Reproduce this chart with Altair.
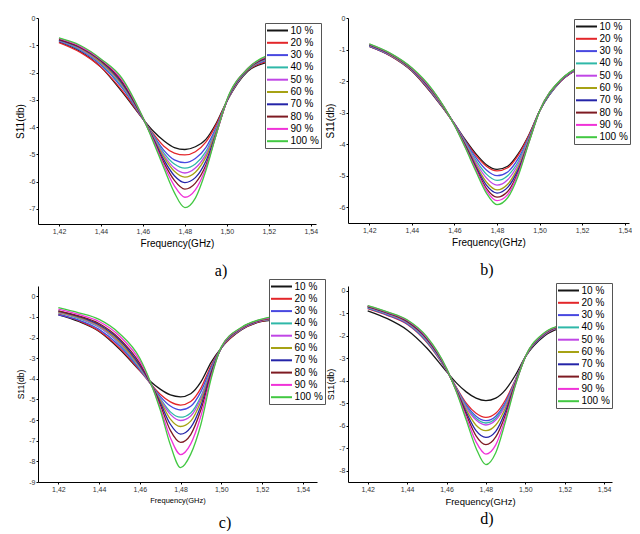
import altair as alt
import pandas as pd

# ---------------- data ----------------
freq = [1.42, 1.43, 1.44, 1.45, 1.46, 1.465, 1.47, 1.475, 1.48, 1.485,
        1.49, 1.495, 1.50, 1.51, 1.52, 1.525]
series = ["10 %", "20 %", "30 %", "40 %", "50 %", "60 %", "70 %", "80 %", "90 %", "100 %"]
colors = ["#161616", "#e3262a", "#4848e0", "#2fb8a8", "#c046e6", "#a6a214",
          "#2424a8", "#7e1a22", "#f032d8", "#42c842"]
x_ticks = [1.42, 1.44, 1.46, 1.48, 1.50, 1.52, 1.54]

a_vals = [
    [-0.88, -1.22, -1.80, -2.70, -3.70, -4.15, -4.50, -4.75, -4.82, -4.72, -4.45, -3.85, -3.05, -1.95, -1.60, -1.48],
    [-0.90, -1.25, -1.80, -2.65, -3.70, -4.25, -4.70, -4.95, -5.02, -4.90, -4.55, -3.90, -3.05, -1.92, -1.57, -1.45],
    [-0.85, -1.18, -1.72, -2.55, -3.70, -4.30, -4.85, -5.20, -5.30, -5.15, -4.75, -4.00, -3.05, -1.90, -1.53, -1.42],
    [-0.83, -1.15, -1.68, -2.50, -3.68, -4.33, -4.95, -5.35, -5.50, -5.35, -4.90, -4.05, -3.05, -1.90, -1.50, -1.40],
    [-0.82, -1.12, -1.65, -2.45, -3.68, -4.37, -5.03, -5.50, -5.68, -5.50, -5.00, -4.10, -3.05, -1.88, -1.48, -1.38],
    [-0.80, -1.10, -1.62, -2.42, -3.67, -4.40, -5.10, -5.62, -5.83, -5.65, -5.10, -4.15, -3.05, -1.88, -1.46, -1.36],
    [-0.80, -1.08, -1.58, -2.38, -3.67, -4.43, -5.20, -5.78, -6.03, -5.85, -5.25, -4.20, -3.05, -1.87, -1.44, -1.34],
    [-0.78, -1.06, -1.55, -2.32, -3.66, -4.47, -5.30, -5.95, -6.27, -6.05, -5.40, -4.25, -3.03, -1.86, -1.41, -1.31],
    [-0.75, -1.03, -1.52, -2.26, -3.65, -4.50, -5.40, -6.15, -6.57, -6.30, -5.50, -4.25, -3.02, -1.85, -1.38, -1.28],
    [-0.73, -1.00, -1.50, -2.20, -3.65, -4.55, -5.50, -6.40, -6.95, -6.60, -5.60, -4.25, -3.00, -1.85, -1.35, -1.25],
]
b_vals = [
    [-0.90, -1.20, -1.68, -2.45, -3.35, -3.85, -4.30, -4.65, -4.80, -4.70, -4.30, -3.70, -2.95, -2.00, -1.55, -1.42],
    [-0.90, -1.20, -1.67, -2.44, -3.36, -3.88, -4.35, -4.70, -4.85, -4.75, -4.35, -3.72, -2.95, -2.00, -1.55, -1.42],
    [-0.89, -1.19, -1.66, -2.42, -3.36, -3.90, -4.42, -4.82, -5.00, -4.88, -4.45, -3.77, -2.95, -1.99, -1.54, -1.41],
    [-0.88, -1.18, -1.65, -2.40, -3.37, -3.93, -4.50, -4.95, -5.15, -5.00, -4.55, -3.80, -2.95, -1.98, -1.53, -1.40],
    [-0.87, -1.17, -1.64, -2.38, -3.37, -3.96, -4.57, -5.07, -5.30, -5.13, -4.63, -3.84, -2.95, -1.98, -1.53, -1.40],
    [-0.86, -1.16, -1.63, -2.37, -3.38, -3.99, -4.64, -5.20, -5.45, -5.27, -4.72, -3.87, -2.95, -1.97, -1.52, -1.39],
    [-0.85, -1.15, -1.62, -2.35, -3.38, -4.02, -4.70, -5.30, -5.55, -5.37, -4.80, -3.90, -2.95, -1.97, -1.52, -1.39],
    [-0.84, -1.14, -1.60, -2.33, -3.39, -4.05, -4.75, -5.40, -5.68, -5.50, -4.88, -3.92, -2.95, -1.96, -1.51, -1.38],
    [-0.83, -1.13, -1.59, -2.32, -3.39, -4.08, -4.80, -5.47, -5.79, -5.60, -4.93, -3.94, -2.95, -1.96, -1.51, -1.38],
    [-0.82, -1.12, -1.58, -2.30, -3.40, -4.10, -4.85, -5.55, -5.92, -5.70, -5.00, -3.95, -2.95, -1.95, -1.50, -1.37],
]
c_vals = [
    [-0.90, -1.22, -1.70, -2.55, -3.60, -4.10, -4.50, -4.78, -4.87, -4.72, -4.15, -3.20, -2.50, -1.62, -1.22, -1.15],
    [-0.85, -1.18, -1.68, -2.50, -3.60, -4.20, -4.75, -5.12, -5.27, -5.10, -4.45, -3.35, -2.50, -1.60, -1.20, -1.13],
    [-0.90, -1.15, -1.60, -2.40, -3.55, -4.20, -4.85, -5.32, -5.51, -5.33, -4.62, -3.45, -2.50, -1.58, -1.18, -1.12],
    [-0.80, -1.08, -1.50, -2.30, -3.50, -4.20, -4.95, -5.60, -5.86, -5.65, -4.85, -3.55, -2.50, -1.57, -1.17, -1.10],
    [-0.78, -1.05, -1.47, -2.25, -3.45, -4.20, -5.00, -5.72, -6.02, -5.80, -4.95, -3.60, -2.50, -1.56, -1.16, -1.09],
    [-0.75, -1.02, -1.42, -2.20, -3.40, -4.18, -5.05, -5.95, -6.31, -6.05, -5.10, -3.65, -2.50, -1.55, -1.15, -1.08],
    [-0.72, -0.98, -1.38, -2.12, -3.35, -4.16, -5.15, -6.20, -6.68, -6.35, -5.30, -3.70, -2.50, -1.54, -1.14, -1.06],
    [-0.70, -0.95, -1.32, -2.05, -3.25, -4.14, -5.25, -6.50, -7.08, -6.70, -5.50, -3.80, -2.48, -1.53, -1.13, -1.05],
    [-0.62, -0.88, -1.22, -1.92, -3.12, -4.12, -5.40, -6.85, -7.67, -7.15, -5.80, -3.90, -2.47, -1.52, -1.12, -1.03],
    [-0.55, -0.80, -1.12, -1.80, -3.00, -4.10, -5.50, -7.20, -8.30, -7.65, -6.20, -4.00, -2.45, -1.50, -1.10, -1.00],
]
d_vals = [
    [-0.90, -1.25, -1.75, -2.55, -3.60, -4.10, -4.50, -4.78, -4.89, -4.78, -4.40, -3.75, -2.95, -2.00, -1.60, -1.50],
    [-0.80, -1.10, -1.50, -2.30, -3.55, -4.30, -5.00, -5.45, -5.63, -5.45, -4.85, -3.95, -2.95, -1.95, -1.57, -1.47],
    [-0.78, -1.08, -1.47, -2.27, -3.54, -4.33, -5.08, -5.58, -5.78, -5.58, -4.95, -3.98, -2.95, -1.94, -1.56, -1.46],
    [-0.76, -1.05, -1.44, -2.24, -3.53, -4.35, -5.14, -5.67, -5.88, -5.67, -5.02, -4.00, -2.95, -1.93, -1.55, -1.45],
    [-0.74, -1.03, -1.42, -2.20, -3.52, -4.37, -5.20, -5.75, -5.97, -5.75, -5.08, -4.02, -2.95, -1.92, -1.55, -1.45],
    [-0.73, -1.01, -1.40, -2.17, -3.50, -4.40, -5.30, -5.98, -6.22, -5.97, -5.20, -4.07, -2.95, -1.91, -1.54, -1.44],
    [-0.71, -0.99, -1.37, -2.14, -3.49, -4.42, -5.40, -6.22, -6.52, -6.25, -5.35, -4.10, -2.95, -1.90, -1.53, -1.43],
    [-0.70, -0.98, -1.35, -2.11, -3.48, -4.45, -5.50, -6.45, -6.84, -6.50, -5.50, -4.13, -2.95, -1.88, -1.52, -1.42],
    [-0.68, -0.96, -1.32, -2.08, -3.46, -4.47, -5.62, -6.72, -7.26, -6.85, -5.65, -4.17, -2.95, -1.87, -1.51, -1.41],
    [-0.67, -0.95, -1.30, -2.05, -3.45, -4.50, -5.75, -7.00, -7.73, -7.20, -5.80, -4.20, -2.95, -1.85, -1.50, -1.40],
]

FONT = "Liberation Sans"


def frame(vals):
    rows = []
    for k, name in enumerate(series):
        for f, v in zip(freq, vals[k]):
            rows.append({"f": f, "s": v, "series": name, "order": k})
    return pd.DataFrame(rows)


def panel(vals, label, ydom, ymin_tick, w, h, lx, ly, xtitle_size, ytitle_size,
          ytitle_pad, lab_dx, lab_off):
    df = frame(vals)
    yticks = list(range(0, ymin_tick - 1, -1))
    return alt.Chart(df).mark_line(strokeWidth=1.3, interpolate="monotone").encode(
        x=alt.X("f:Q", scale=alt.Scale(domain=[1.41, ydom[2]], nice=False, zero=False),
                axis=alt.Axis(values=x_ticks, title="Frequency(GHz)",
                              labelExpr="replace(format(datum.value, '.2f'), '.', ',')",
                              titleFontSize=xtitle_size, titlePadding=4)),
        y=alt.Y("s:Q", scale=alt.Scale(domain=[ydom[0], ydom[1]], nice=False, zero=False),
                axis=alt.Axis(values=yticks, title="S11(db)", labelExpr="'' + datum.value",
                              titleFontSize=ytitle_size, titlePadding=ytitle_pad)),
        color=alt.Color("series:N", scale=alt.Scale(domain=series, range=colors),
                        legend=alt.Legend(orient="none", legendX=lx, legendY=ly, title=None,
                                          fillColor="white", strokeColor="#555555",
                                          padding=1.5, symbolType="M-2.1,0H2.1",
                                          symbolSize=100, symbolStrokeWidth=2,
                                          symbolOffset=5, labelOffset=7,
                                          labelFontSize=10, labelFont=FONT,
                                          labelColor="black", rowPadding=1.3)),
        order=alt.Order("order:Q"),
        detail="series:N",
    ).properties(
        width=w, height=h,
        title=alt.TitleParams(label, orient="bottom", font="Liberation Serif",
                              fontSize=16, fontWeight="normal", color="black",
                              anchor="middle", dx=lab_dx, offset=lab_off),
    )


pa = panel(a_vals, "a)", [-7.55, 0, 1.5425], -7, 278, 206, 227, 5, 10, 10, 3, 44, 15)
pb = panel(b_vals, "b)", [-6.5, 0, 1.542], -6, 281, 205, 226, 1, 10, 10, 3, -1.5, 15)
pc = panel(c_vals, "c)", [-9, 0.5, 1.547], -9, 279, 196, 231, -7, 7.5, 8.5, 3, 47.5, 11)
pd_ = panel(d_vals, "d)", [-8.5, 0.2, 1.544], -8, 264, 196, 208, -3, 9.5, 9, 3, 7, 5)

chart = alt.concat(pa, pb, pc, pd_, columns=2, bounds="flush", align="none",
                   spacing={"row": 62, "column": 31}).resolve_scale(
    color="independent").resolve_legend(color="independent").configure(
    font=FONT,
).configure_view(stroke=None).configure_axis(
    grid=False, domainColor="black", domainWidth=1, tickColor="black", tickSize=2,
    labelFontSize=7, labelColor="#333333", labelPadding=1, labelFont=FONT,
    titleFont=FONT, titleFontWeight="normal", titleColor="black",
).properties(padding={"left": 7, "top": 6, "right": 0, "bottom": 0})

chart.save("out.html", embed_options={"renderer": "svg", "actions": False})
